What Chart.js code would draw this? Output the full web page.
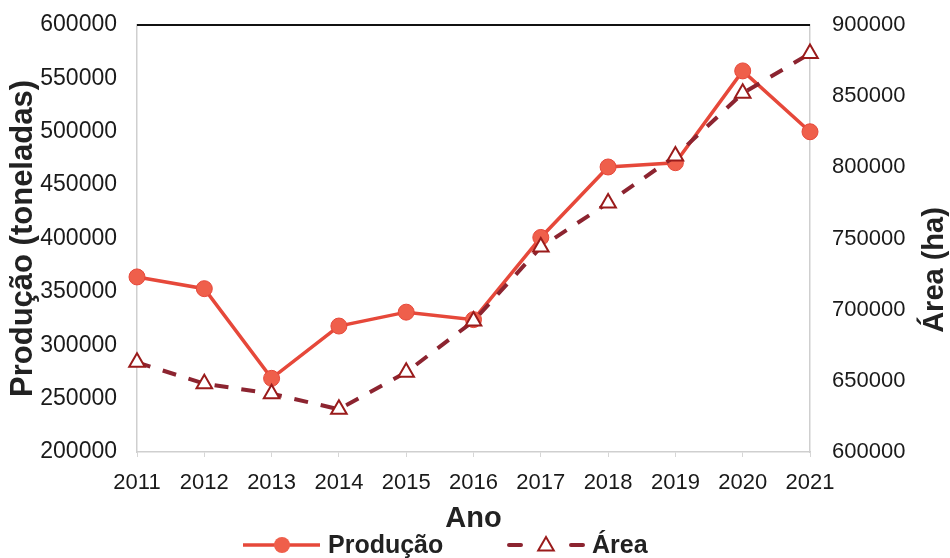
<!DOCTYPE html>
<html lang="pt">
<head>
  <meta charset="UTF-8">
  <title>Produção e área</title>
  <script src="https://cdn.jsdelivr.net/npm/chart.js"></script>
  <style>
    html, body { margin: 0; padding: 0; background: #fff; }
  </style>
</head>
<body>
  <canvas id="grafico" width="950" height="558"></canvas>

  <script>
    // dados
    const anos = ['2011', '2012', '2013', '2014', '2015', '2016', '2017', '2018', '2019', '2020', '2021'];
    const producao = [364000, 353000, 269000, 318000, 331000, 324000, 401000, 467000, 471000, 557000, 500000];
    const area = [663000, 648000, 641000, 630000, 656000, 692000, 744000, 775000, 808000, 852000, 880000];
    const limitesProducao = [200000, 600000, 50000];
    const limitesArea = [600000, 900000, 50000];

    const fonte = '"Liberation Sans", Arial, sans-serif';
    const corProd = '#E6483A';
    const corProdPonto = '#EF5F4B';
    const corArea = '#8C2430';
    const corTriangulo = '#9A1B1B';

    Chart.defaults.font.family = fonte;
    Chart.defaults.color = '#1a1a1a';

    function triangulo(ctx, x, y, r) {
      ctx.beginPath();
      ctx.moveTo(x, y - r);
      ctx.lineTo(x + r * 0.866, y + r * 0.5);
      ctx.lineTo(x - r * 0.866, y + r * 0.5);
      ctx.closePath();
    }

    const extras = {
      id: 'extras',
      afterDraw(chart) {
        const { ctx, chartArea: a } = chart;
        ctx.save();
        // linha preta no topo
        ctx.strokeStyle = '#111';
        ctx.lineWidth = 2;
        ctx.beginPath();
        ctx.moveTo(a.left, a.top);
        ctx.lineTo(a.right, a.top);
        ctx.stroke();

        // título do eixo da direita (lido de baixo para cima)
        ctx.save();
        ctx.translate(935, 270);
        ctx.rotate(-Math.PI / 2);
        ctx.font = 'bold 29px ' + fonte;
        ctx.fillStyle = '#222';
        ctx.textAlign = 'center';
        ctx.textBaseline = 'middle';
        ctx.fillText('Área (ha)', 0, 0);
        ctx.restore();

        // legenda
        const y = 545;
        const ds = chart.data.datasets;
        ctx.font = 'bold 25px ' + fonte;
        ctx.fillStyle = '#222';
        ctx.textAlign = 'left';
        ctx.textBaseline = 'middle';

        ctx.strokeStyle = corProd;
        ctx.lineWidth = 3.5;
        ctx.beginPath();
        ctx.moveTo(243, y);
        ctx.lineTo(320, y);
        ctx.stroke();
        ctx.beginPath();
        ctx.arc(282, y, 8, 0, Math.PI * 2);
        ctx.fillStyle = corProdPonto;
        ctx.fill();
        ctx.fillStyle = '#222';
        ctx.fillText(ds[0].label, 328, y + 1);

        ctx.strokeStyle = corArea;
        ctx.lineWidth = 4;
        ctx.lineCap = 'round';
        ctx.beginPath();
        ctx.moveTo(509, y);
        ctx.lineTo(521, y);
        ctx.moveTo(571, y);
        ctx.lineTo(583, y);
        ctx.stroke();
        triangulo(ctx, 546, y + 1, 9);
        ctx.fillStyle = '#fff';
        ctx.fill();
        ctx.strokeStyle = corTriangulo;
        ctx.lineWidth = 2;
        ctx.stroke();
        ctx.fillStyle = '#222';
        ctx.fillText(ds[1].label, 592, y + 1);
        ctx.restore();
      }
    };

    const ctx = document.getElementById('grafico').getContext('2d');
    const chart = new Chart(ctx, {
      type: 'line',
      data: {
        labels: anos,
        datasets: [{
          label: 'Produção',
          data: producao,
          yAxisID: 'y',
          borderColor: corProd,
          backgroundColor: corProdPonto,
          borderWidth: 3.5,
          pointRadius: 8,
          pointBorderWidth: 1,
          pointBorderColor: corProd,
          pointBackgroundColor: corProdPonto,
          tension: 0,
          clip: false,
          order: 1
        }, {
          label: 'Área',
          data: area,
          yAxisID: 'y1',
          borderColor: corArea,
          borderDash: [14, 13],
          borderWidth: 4,
          pointStyle: 'triangle',
          pointRadius: 9,
          pointBorderWidth: 2,
          pointBorderColor: corTriangulo,
          pointBackgroundColor: '#fff',
          tension: 0,
          clip: false,
          order: 0
        }]
      },
      options: {
        responsive: false,
        animation: false,
        layout: { padding: { top: 25, left: 0, right: 0, bottom: 0 } },
        plugins: {
          legend: { display: false },
          tooltip: { enabled: false }
        },
        scales: {
          x: {
            offset: false,
            grid: { drawOnChartArea: false, tickLength: 5, color: '#d6d6d6' },
            border: { color: '#cfcfcf', width: 1.5 },
            ticks: { font: { size: 22 }, padding: 13, maxRotation: 0, autoSkip: false },
            title: { display: true, text: 'Ano', font: { size: 29, weight: 'bold', lineHeight: 1 }, color: '#222', padding: { top: 0, bottom: 25 } },
            afterFit: s => { s.height = 106; }
          },
          y: {
            position: 'left',
            min: limitesProducao[0],
            max: limitesProducao[1],
            grid: { drawOnChartArea: false, tickLength: 20, tickColor: 'transparent' },
            border: { color: '#cfcfcf', width: 1.5 },
            ticks: { stepSize: limitesProducao[2], font: { size: 23 }, padding: 0, callback: v => String(v) },
            title: { display: true, text: 'Produção (toneladas)', font: { size: 31, weight: 'bold', lineHeight: 1 }, color: '#222', padding: { top: 8, bottom: 0 } },
            afterFit: s => { s.width = 137; }
          },
          y1: {
            position: 'right',
            min: limitesArea[0],
            max: limitesArea[1],
            grid: { drawOnChartArea: false, tickLength: 22, tickColor: 'transparent' },
            border: { color: '#cfcfcf', width: 1.5 },
            ticks: { stepSize: limitesArea[2], font: { size: 22 }, padding: 0, callback: v => String(v) },
            afterFit: s => { s.width = 140; }
          }
        }
      },
      plugins: [extras]
    });
  </script>
</body>
</html>
